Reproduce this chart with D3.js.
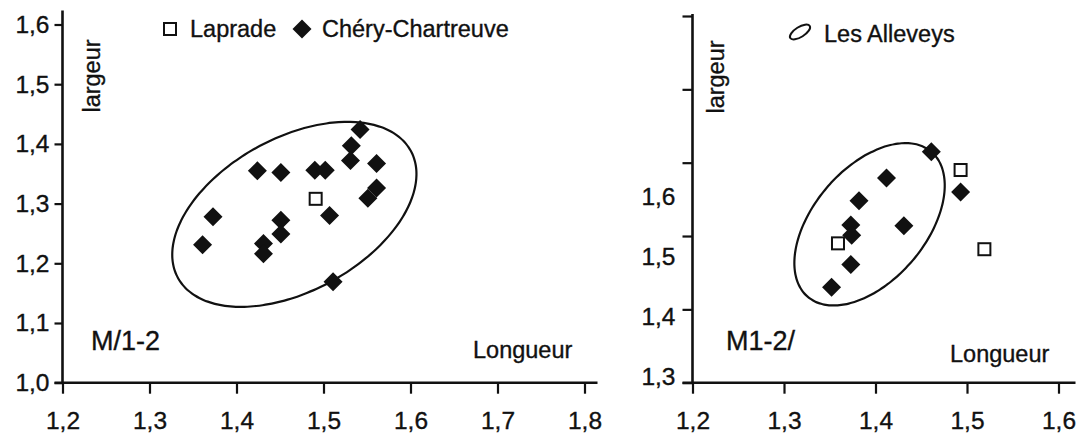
<!DOCTYPE html>
<html><head><meta charset="utf-8">
<script src="https://cdn.jsdelivr.net/npm/d3@7"></script>
<style>
body{margin:0;background:#fff}
text{font-family:"Liberation Sans",Arial,sans-serif;fill:#111;stroke:#111;stroke-width:0.35px}
</style>
</head><body>
<svg id="c" width="1083" height="439"></svg>
<script>
// ---------- data ----------
const leftXTicks = [1.2, 1.3, 1.4, 1.5, 1.6, 1.7, 1.8];
const leftYTicks = [1.0, 1.1, 1.2, 1.3, 1.4, 1.5, 1.6];
const rightXTicks = [1.2, 1.3, 1.4, 1.5, 1.6];
const rightYTicks = [1.3, 1.4, 1.5, 1.6, 1.7, 1.8];
const rightYLabels = [1.3, 1.4, 1.5, 1.6];

const legendLeft = ["Laprade", "Chéry-Chartreuve"];
const legendRight = ["Les Alleveys"];
const panelNames = ["M/1-2", "M1-2/"];
const xTitle = "Longueur";
const yTitle = "largeur";

// M/1-2 (left panel)
const leftLaprade = [{x: 1.491, y: 1.308}];
const leftChery = [
  {x: 1.542, y: 1.424}, {x: 1.532, y: 1.397}, {x: 1.531, y: 1.372},
  {x: 1.561, y: 1.367}, {x: 1.490, y: 1.356}, {x: 1.502, y: 1.356},
  {x: 1.561, y: 1.326}, {x: 1.551, y: 1.309}, {x: 1.507, y: 1.280},
  {x: 1.424, y: 1.355}, {x: 1.451, y: 1.352}, {x: 1.373, y: 1.278},
  {x: 1.361, y: 1.231}, {x: 1.451, y: 1.272}, {x: 1.451, y: 1.249},
  {x: 1.431, y: 1.233}, {x: 1.431, y: 1.216}, {x: 1.511, y: 1.169}
];
// M1-2/ (right panel)
const rightLaprade = [{x: 1.493, y: 1.590}, {x: 1.359, y: 1.490}, {x: 1.519, y: 1.482}];
const rightChery = [
  {x: 1.461, y: 1.615}, {x: 1.493, y: 1.560}, {x: 1.412, y: 1.579},
  {x: 1.382, y: 1.548}, {x: 1.431, y: 1.514}, {x: 1.373, y: 1.515},
  {x: 1.374, y: 1.501}, {x: 1.373, y: 1.461}, {x: 1.352, y: 1.430}
];
// ellipses (centre + two conjugate semi-diameters, data units)
const leftEllipse = {cx: 1.4665, cy: 1.2820, ux: 0.1336, uy: 0.1070, vx: -0.0430, vy: 0.1120};
const rightEllipse = {cx: 1.3935, cy: 1.5160, ux: 0.0674, uy: 0.0990, vx: -0.0470, vy: 0.0495};

// ---------- drawing ----------
const svg = d3.select("#c");
svg.append("rect").attr("width", 1083).attr("height", 439).attr("fill", "#fff");
const fmt = v => d3.format(".1f")(v).replace(".", ",");
const ink = "#111";

const xL = d3.scaleLinear().domain([1.2, 1.8]).range([62.5, 584.5]);
const yL = d3.scaleLinear().domain([1.0, 1.6]).range([382.7, 24.5]);
const xR = d3.scaleLinear().domain([1.2, 1.6]).range([692.5, 1058.5]);
const yR = d3.scaleLinear().domain([1.3, 1.8]).range([382.7, 16]);
const yRLab = d3.scaleLinear().domain([1.3, 1.6]).range([377, 197]);

function styleAxis(g, size) {
  g.select(".domain").remove();
  g.selectAll(".tick line").attr("stroke", ink).attr("stroke-width", 2.2);
  g.selectAll(".tick text").attr("font-size", size).attr("fill", ink)
    .attr("font-family", '"Liberation Sans", Arial, sans-serif');
}

function panel(x, y, opts) {
  const g = svg.append("g");
  const gx = g.append("g").attr("transform", `translate(0,${y.range()[0]})`)
    .call(d3.axisBottom(x).tickValues(opts.xTicks).tickFormat(fmt).tickSize(11).tickPadding(18));
  styleAxis(gx, 24.5);
  const gy = g.append("g").attr("transform", `translate(${x.range()[0]},0)`)
    .call(d3.axisLeft(y).tickValues(opts.yTicks).tickFormat(opts.yLabelScale ? "" : fmt)
      .tickSize(opts.yTickSize).tickPadding(5));
  styleAxis(gy, 24.5);
  if (opts.yLabelScale) {
    const gl = g.append("g").attr("transform", `translate(${x.range()[0]},0)`)
      .call(d3.axisLeft(opts.yLabelScale).tickValues(opts.yLabels).tickFormat(fmt).tickSize(0).tickPadding(17));
    styleAxis(gl, 24.5);
  }
  const x0 = x.range()[0], x1 = x.range()[1], y0 = y.range()[0], y1 = y.range()[1];
  g.append("line").attr("x1", x0 - opts.yTickSize).attr("x2", x1 + opts.xExtra)
    .attr("y1", y0).attr("y2", y0).attr("stroke", ink).attr("stroke-width", 2.6);
  g.append("line").attr("x1", x0).attr("x2", x0)
    .attr("y1", y0).attr("y2", y1 - opts.yExtra).attr("stroke", ink).attr("stroke-width", 2.6);

  const e = opts.ellipse;
  const pts = d3.range(0, 360, 3).map(a => {
    const t = a * Math.PI / 180;
    return [x(e.cx + e.ux * Math.cos(t) + e.vx * Math.sin(t)),
            y(e.cy + e.uy * Math.cos(t) + e.vy * Math.sin(t))];
  });
  g.append("path").attr("d", d3.line().curve(d3.curveCardinalClosed)(pts))
    .attr("fill", "none").attr("stroke", ink).attr("stroke-width", 2.2);

  g.selectAll(null).data(opts.chery).join("path")
    .attr("d", "M0,-9.5L9.5,0L0,9.5L-9.5,0Z")
    .attr("transform", d => `translate(${x(d.x)},${y(d.y)})`)
    .attr("fill", ink);
  g.selectAll(null).data(opts.laprade).join("rect")
    .attr("x", d => x(d.x) - 6).attr("y", d => y(d.y) - 6)
    .attr("width", 12).attr("height", 12)
    .attr("fill", "#fff").attr("stroke", ink).attr("stroke-width", 2);

  g.append("text").text(yTitle).attr("font-size", 23.5).attr("text-anchor", "middle")
    .attr("transform", `translate(${opts.yTitlePos[0]},${opts.yTitlePos[1]}) rotate(-90)`)
    .attr("dy", "0.35em");
  g.append("text").text(xTitle).attr("font-size", 23.5)
    .attr("x", opts.xTitlePos[0]).attr("y", opts.xTitlePos[1]);
  g.append("text").text(opts.name).attr("font-size", 27)
    .attr("x", opts.namePos[0]).attr("y", opts.namePos[1]);
  return g;
}

panel(xL, yL, {
  xTicks: leftXTicks, yTicks: leftYTicks, yTickSize: 8, xExtra: 13, yExtra: 14,
  ellipse: leftEllipse, chery: leftChery, laprade: leftLaprade,
  yTitlePos: [92, 76], xTitlePos: [473, 358], name: panelNames[0], namePos: [91, 350]
});
panel(xR, yR, {
  xTicks: rightXTicks, yTicks: rightYTicks, yTickSize: 10, xExtra: 17, yExtra: 2,
  yLabelScale: yRLab, yLabels: rightYLabels,
  ellipse: rightEllipse, chery: rightChery, laprade: rightLaprade,
  yTitlePos: [716, 77], xTitlePos: [950, 362], name: panelNames[1], namePos: [726, 350]
});

const lg = svg.append("g");
lg.append("rect").attr("x", 164).attr("y", 23).attr("width", 12).attr("height", 12)
  .attr("fill", "#fff").attr("stroke", ink).attr("stroke-width", 2);
lg.append("text").text(legendLeft[0]).attr("x", 190).attr("y", 37).attr("font-size", 23.5);
lg.append("path").attr("d", "M0,-9.5L9.5,0L0,9.5L-9.5,0Z").attr("transform", "translate(302,29)").attr("fill", ink);
lg.append("text").text(legendLeft[1]).attr("x", 322).attr("y", 37).attr("font-size", 23.5);
lg.append("ellipse").attr("rx", 11.5).attr("ry", 5).attr("fill", "none").attr("stroke", ink)
  .attr("stroke-width", 2).attr("transform", "translate(800,32) rotate(-32)");
lg.append("text").text(legendRight[0]).attr("x", 824).attr("y", 42).attr("font-size", 23.5);
</script>
</body></html>
